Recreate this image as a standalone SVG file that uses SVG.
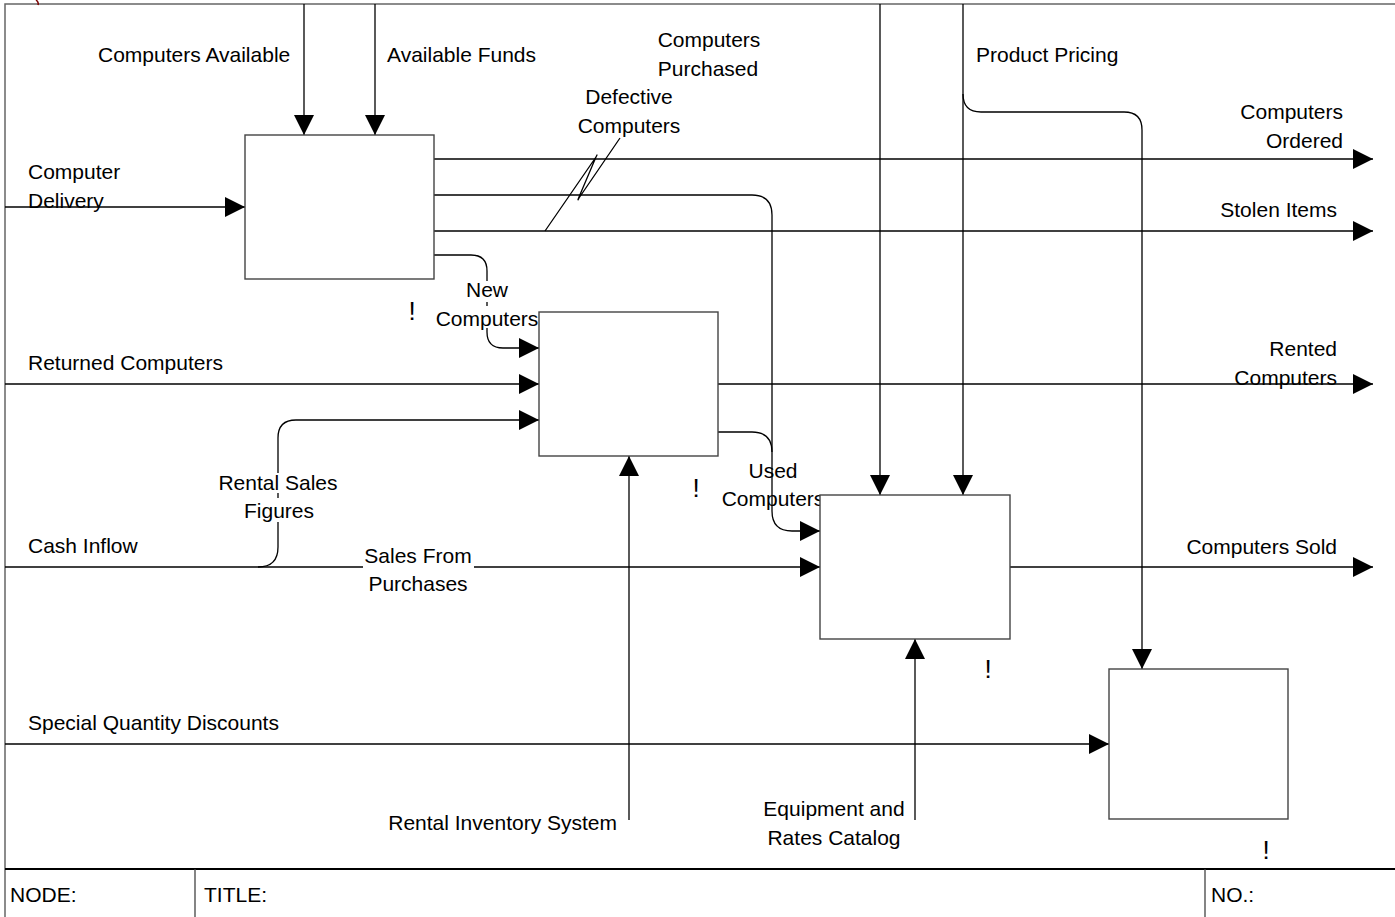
<svg xmlns="http://www.w3.org/2000/svg" width="1395" height="917" viewBox="0 0 1395 917">
<style>
text{font-family:"Liberation Sans",Arial,sans-serif;font-size:21px;fill:#000}
.c{text-anchor:middle}
.r{text-anchor:end}
.ex{font-size:26px;text-anchor:middle}
.box{fill:#fff;stroke:#444;stroke-width:1.4}
.ln{fill:none;stroke:#000;stroke-width:1.3}
.arr{fill:none;stroke:#000;stroke-width:1.3;marker-end:url(#ah)}
.bg{fill:#fff}
.frame{fill:none;stroke:#666;stroke-width:1.5}
</style>
<defs>
<marker id="ah" markerUnits="userSpaceOnUse" markerWidth="20" markerHeight="20" refX="20" refY="10" orient="auto">
<path d="M0,0 L20,10 L0,20 z" fill="#000"/>
</marker>
</defs>
<rect width="1395" height="917" fill="#fff"/>
<g id="frame">
<path class="frame" d="M5,917 V4 H1395"/>
<path d="M5,869 H1395" stroke="#000" stroke-width="2"/>
<path d="M195,869 V917 M1205,869 V917" stroke="#444" stroke-width="1.3"/>
<path d="M36,0 Q39,2 38,5" fill="none" stroke="#7a0000" stroke-width="1.5"/>
<text x="10" y="902">NODE:</text>
<text x="204" y="902">TITLE:</text>
<text x="1211" y="902">NO.:</text>
</g>
<g id="connectors">
<path class="arr" d="M304,4 V135"/>
<path class="arr" d="M375,4 V135"/>
<path class="arr" d="M5,207 H245"/>
<path class="arr" d="M434,159 H1373"/>
<path class="arr" d="M434,195 H752 Q772,195 772,215 V511 Q772,531 792,531 H820"/>
<path class="ln" d="M718,432 H752 Q772,432 772,452"/>
<path class="arr" d="M434,231 H1373"/>
<path class="arr" d="M434,255 H471 Q487,255 487,271 V332 Q487,348 503,348 H539"/>
<path class="arr" d="M5,384 H539"/>
<path class="arr" d="M5,567 H820"/>
<path class="arr" d="M258,567 Q278,567 278,547 V438 Q278,420 296,420 H539"/>
<path class="arr" d="M718,384 H1373"/>
<path class="arr" d="M629,820 V456"/>
<path class="arr" d="M915,820 V639"/>
<path class="arr" d="M880,4 V495"/>
<path class="arr" d="M963,4 V495"/>
<path class="arr" d="M963,94 Q963,112 981,112 H1124 Q1142,112 1142,130 V669"/>
<path class="arr" d="M1010,567 H1373"/>
<path class="arr" d="M5,744 H1109"/>
<path class="ln" d="M620,138 L579,198 Q577,202 579,197 L596,157 Q598,153 596,157 L545,231"/>
</g>
<g id="labels">
<text x="98" y="62">Computers Available</text>
<text x="387" y="62">Available Funds</text>
<text class="c" x="709" y="47">Computers</text>
<text class="c" x="708" y="76">Purchased</text>
<text class="c" x="629" y="104">Defective</text>
<text class="c" x="629" y="133">Computers</text>
<text x="976" y="62">Product Pricing</text>
<text class="r" x="1343" y="119">Computers</text>
<text class="r" x="1343" y="148">Ordered</text>
<text x="28" y="179">Computer</text>
<text x="28" y="208">Delivery</text>
<text class="r" x="1337" y="217">Stolen Items</text>
<rect class="bg" x="465" y="281" width="45" height="21"/>
<rect class="bg" x="435" y="306" width="103" height="22"/>
<text class="c" x="487" y="297">New</text>
<text class="c" x="487" y="326">Computers</text>
<text x="28" y="370">Returned Computers</text>
<text class="r" x="1337" y="356">Rented</text>
<text class="r" x="1337" y="385">Computers</text>
<text class="c" x="773" y="478">Used</text>
<text class="c" x="773" y="506">Computers</text>
<rect class="bg" x="217" y="473" width="122" height="20"/>
<rect class="bg" x="246" y="498" width="66" height="24"/>
<text class="c" x="278" y="490">Rental Sales</text>
<text class="c" x="279" y="518">Figures</text>
<text x="28" y="553">Cash Inflow</text>
<rect class="bg" x="363" y="545" width="111" height="24"/>
<text class="c" x="418" y="563">Sales From</text>
<text class="c" x="418" y="591">Purchases</text>
<text class="r" x="1337" y="554">Computers Sold</text>
<text x="28" y="730">Special Quantity Discounts</text>
<text class="c" x="834" y="816">Equipment and</text>
<text class="c" x="834" y="845">Rates Catalog</text>
<text class="r" x="617" y="830">Rental Inventory System</text>
</g>
<g id="node1">
<rect class="box" x="245" y="135" width="189" height="144"/>
<text class="ex" x="412" y="320">!</text>
</g>
<g id="node2">
<rect class="box" x="539" y="312" width="179" height="144"/>
<text class="ex" x="696" y="497">!</text>
</g>
<g id="node3">
<rect class="box" x="820" y="495" width="190" height="144"/>
<text class="ex" x="988" y="678">!</text>
</g>
<g id="node4">
<rect class="box" x="1109" y="669" width="179" height="150"/>
<text class="ex" x="1266" y="859">!</text>
</g>
</svg>
